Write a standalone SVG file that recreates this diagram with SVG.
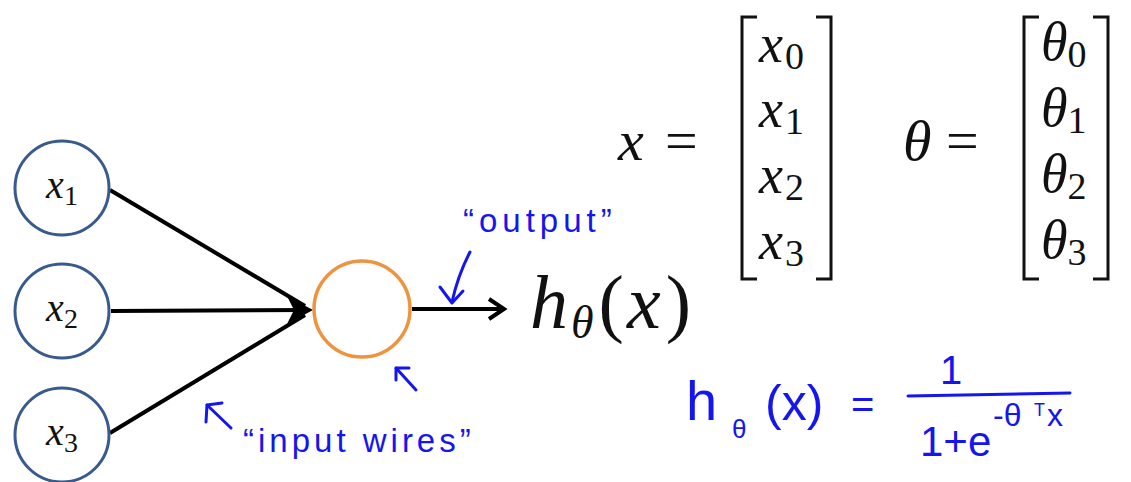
<svg xmlns="http://www.w3.org/2000/svg" width="1131" height="482" viewBox="0 0 1131 482">
<style>
.inp{fill:#fff;stroke:#385A8C;stroke-width:3}
.neu{fill:#fff;stroke:#EE9441;stroke-width:3.5}
.wire{stroke:#000;stroke-width:4;fill:none}
.m{font-family:"Liberation Serif","DejaVu Serif",serif;fill:#111}
.i{font-style:italic}
.blue{stroke:#1515F0;stroke-width:3;fill:none;stroke-linecap:round;stroke-linejoin:round}
.hw{font-family:"Liberation Sans","DejaVu Sans",sans-serif;fill:#1515F0}
</style>
<rect width="1131" height="482" fill="#fff"/>
<g id="connectors">
<line class="wire" x1="110" y1="190" x2="305" y2="306"/>
<line class="wire" x1="111" y1="311" x2="305" y2="310"/>
<line class="wire" x1="110" y1="433" x2="305" y2="315"/>
<path d="M287 296 L313 310 L287 324 L294 310 Z" fill="#000"/>
<line class="wire" x1="412" y1="309" x2="502" y2="309"/>
<path class="wire" d="M489 299 L504 309 L489 319"/>
</g>
<g id="node-x1"><circle class="inp" cx="62" cy="188" r="47"/>
<text class="m" x="62" y="198" text-anchor="middle" font-size="40"><tspan class="i">x</tspan><tspan font-size="28" dy="7">1</tspan></text></g>
<g id="node-x2"><circle class="inp" cx="62" cy="311" r="47"/>
<text class="m" x="62" y="321" text-anchor="middle" font-size="40"><tspan class="i">x</tspan><tspan font-size="28" dy="7">2</tspan></text></g>
<g id="node-x3"><circle class="inp" cx="62" cy="435" r="47"/>
<text class="m" x="62" y="445" text-anchor="middle" font-size="40"><tspan class="i">x</tspan><tspan font-size="28" dy="7">3</tspan></text></g>
<g id="neuron"><circle class="neu" cx="362" cy="309" r="48"/></g>
<g id="output-h">
<text class="m" x="530" y="328" font-size="76"><tspan class="i">h</tspan><tspan class="i" font-size="46" dy="10" dx="3">θ</tspan><tspan dy="-10" dx="5">(</tspan><tspan class="i" dx="3">x</tspan><tspan dx="5">)</tspan></text>
</g>
<g id="x-vector">
<text class="m i" x="618" y="160" font-size="58">x</text>
<text class="m" x="665" y="160" font-size="58">=</text>
<path d="M757 17 H742 V279 H757" fill="none" stroke="#111" stroke-width="3"/>
<path d="M816 17 H831 V279 H816" fill="none" stroke="#111" stroke-width="3"/>
<g class="m" font-size="54">
<text x="759" y="62"><tspan class="i">x</tspan><tspan font-size="38" dy="7" dx="2">0</tspan></text>
<text x="759" y="127"><tspan class="i">x</tspan><tspan font-size="38" dy="7" dx="2">1</tspan></text>
<text x="759" y="193"><tspan class="i">x</tspan><tspan font-size="38" dy="7" dx="2">2</tspan></text>
<text x="759" y="259"><tspan class="i">x</tspan><tspan font-size="38" dy="7" dx="2">3</tspan></text>
</g>
</g>
<g id="theta-vector">
<text class="m i" x="903" y="160" font-size="58">θ</text>
<text class="m" x="946" y="160" font-size="58">=</text>
<path d="M1039 17 H1024 V279 H1039" fill="none" stroke="#111" stroke-width="3"/>
<path d="M1093 17 H1108 V279 H1093" fill="none" stroke="#111" stroke-width="3"/>
<g class="m" font-size="54">
<text x="1041" y="60"><tspan class="i">θ</tspan><tspan font-size="38" dy="7">0</tspan></text>
<text x="1041" y="126"><tspan class="i">θ</tspan><tspan font-size="38" dy="7">1</tspan></text>
<text x="1041" y="192"><tspan class="i">θ</tspan><tspan font-size="38" dy="7">2</tspan></text>
<text x="1041" y="258"><tspan class="i">θ</tspan><tspan font-size="38" dy="7">3</tspan></text>
</g>
</g>
<g id="annotation-output">
<text class="hw" x="463" y="232" font-size="33" letter-spacing="5">“output”</text>
<path class="blue" d="M470 252 Q458 275 452 302"/>
<path class="blue" d="M440 287 L452 303 L463 291"/>
</g>
<g id="annotation-input">
<path class="blue" d="M231 428 L207 405"/>
<path class="blue" d="M206 422 L207 405 L222 403"/>
<text class="hw" x="243" y="452" font-size="33" letter-spacing="4">“input wires”</text>
</g>
<g id="annotation-neuron">
<path class="blue" d="M416 390 L396 368"/>
<path class="blue" d="M396 380 L396 368 L409 368"/>
</g>
<g id="formula">
<text class="hw" x="686" y="420" font-size="56">h</text>
<text class="hw" x="732" y="438" font-size="26">θ</text>
<text class="hw" x="765" y="420" font-size="50">(x)</text>
<text class="hw" x="851" y="418" font-size="40">=</text>
<line class="blue" x1="908" y1="396" x2="1070" y2="393"/>
<text class="hw" x="940" y="384" font-size="40">1</text>
<text class="hw" x="920" y="456" font-size="42">1+e</text>
<text class="hw" x="993" y="426" font-size="32">-θ</text>
<text class="hw" x="1034" y="416" font-size="18">T</text>
<text class="hw" x="1047" y="426" font-size="32">x</text>
</g>
</svg>
